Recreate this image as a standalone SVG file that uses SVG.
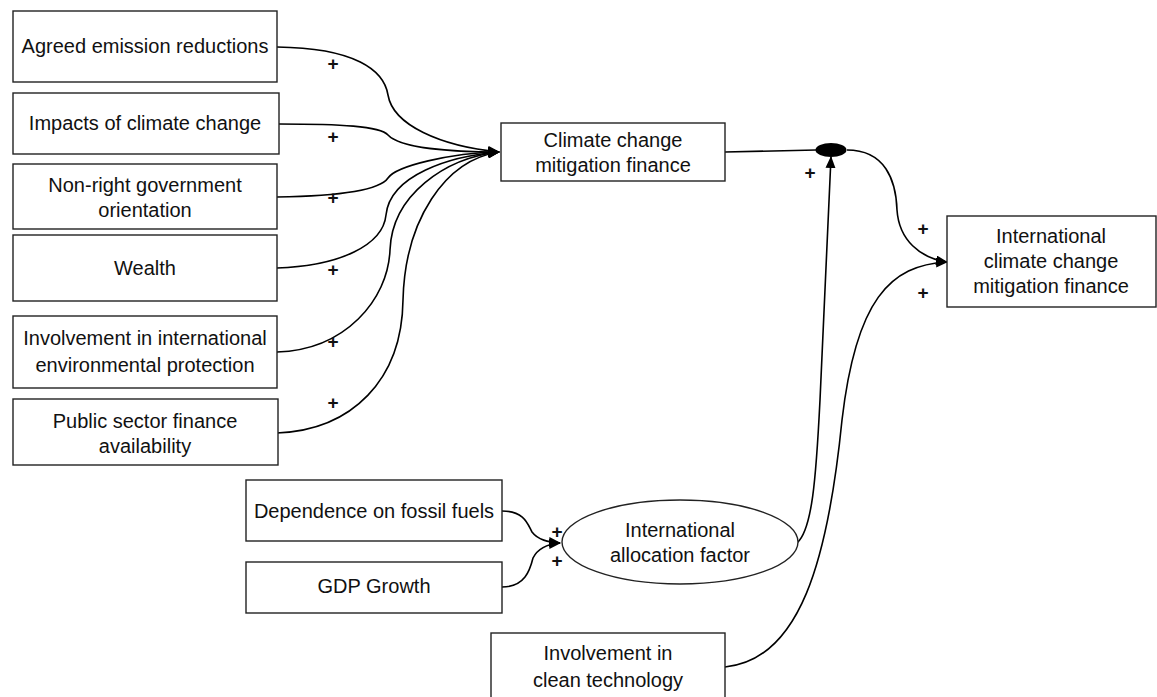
<svg xmlns="http://www.w3.org/2000/svg" width="1157" height="697" viewBox="0 0 1157 697">
  <style>
    .box { fill: #ffffff; stroke: #222222; stroke-width: 1.4; }
    .lbl { font-family: "Liberation Sans", Arial, sans-serif; font-size: 20px; fill: #111111; text-anchor: middle; }
    .sign { font-family: "Liberation Sans", Arial, sans-serif; font-size: 19px; font-weight: bold; fill: #111111; text-anchor: middle; }
    .link { fill: none; stroke: #000000; stroke-width: 1.6; }
  </style>
  <defs>
    <marker id="arrow" viewBox="0 0 12 10" refX="11" refY="5" markerWidth="12" markerHeight="10" markerUnits="userSpaceOnUse" orient="auto">
      <path d="M0,0 L12,5 L0,10 Z" fill="#000000"/>
    </marker>
  </defs>
  <rect width="1157" height="697" fill="#ffffff"/>

  <!-- connectors -->
  <g id="connectors">
    <path class="link" marker-end="url(#arrow)" d="M277,47 C355,48 384,70 388,95 C393,125 440,146 499,152"/>
    <path class="link" marker-end="url(#arrow)" d="M279,124 C340,124 380,126 388,135 C400,148 450,152 499,152"/>
    <path class="link" marker-end="url(#arrow)" d="M277,197 C340,196 380,190 388,178 C396,166 450,153 499,152"/>
    <path class="link" marker-end="url(#arrow)" d="M277,268 C340,266 383,245 386,215 C390,175 450,156 499,152"/>
    <path class="link" marker-end="url(#arrow)" d="M277,352 C345,350 388,300 390,250 C392,195 445,158 499,152"/>
    <path class="link" marker-end="url(#arrow)" d="M277,433 C352,430 402,380 403,300 C405,220 445,160 499,152"/>
    <path class="link" d="M725,152 L816,150"/>
    <path class="link" marker-end="url(#arrow)" d="M797,543 C812,530 816,480 820,400 L831,157"/>
    <path class="link" marker-end="url(#arrow)" d="M847,150 C885,150 896,180 897,210 C899,240 920,258 947,262"/>
    <path class="link" marker-end="url(#arrow)" d="M725,667 C800,660 828,560 842,420 C856,300 890,265 947,262"/>
    <path class="link" marker-end="url(#arrow)" d="M502,511 C525,511 528,525 532,532 C538,540 548,542 560,543"/>
    <path class="link" marker-end="url(#arrow)" d="M502,587 C525,587 530,570 533,558 C538,548 548,544 560,543"/>
    <ellipse cx="831" cy="150" rx="15.5" ry="7" fill="#000000"/>
  </g>

  <!-- polarity signs -->
  <g id="signs">
    <text class="sign" x="333" y="70">+</text>
    <text class="sign" x="333" y="143">+</text>
    <text class="sign" x="333" y="204">+</text>
    <text class="sign" x="333" y="276">+</text>
    <text class="sign" x="333" y="348">+</text>
    <text class="sign" x="333" y="409">+</text>
    <text class="sign" x="810" y="179">+</text>
    <text class="sign" x="923" y="235">+</text>
    <text class="sign" x="923" y="299">+</text>
    <text class="sign" x="557" y="538">+</text>
    <text class="sign" x="557" y="567">+</text>
  </g>

  <g id="agreed-emission-reductions">
    <rect class="box" x="13" y="11" width="264" height="71"/>
    <text class="lbl" x="145" y="53">Agreed emission reductions</text>
  </g>
  <g id="impacts-of-climate-change">
    <rect class="box" x="13" y="93" width="266" height="61"/>
    <text class="lbl" x="145" y="130">Impacts of climate change</text>
  </g>
  <g id="non-right-government">
    <rect class="box" x="13" y="164" width="264" height="65"/>
    <text class="lbl" x="145" y="192">Non-right government</text>
    <text class="lbl" x="145" y="217">orientation</text>
  </g>
  <g id="wealth">
    <rect class="box" x="13" y="235" width="264" height="66"/>
    <text class="lbl" x="145" y="275">Wealth</text>
  </g>
  <g id="intl-environmental-protection">
    <rect class="box" x="13" y="316" width="264" height="72"/>
    <text class="lbl" x="145" y="345">Involvement in international</text>
    <text class="lbl" x="145" y="372">environmental protection</text>
  </g>
  <g id="public-sector-finance">
    <rect class="box" x="13" y="399" width="265" height="66"/>
    <text class="lbl" x="145" y="428">Public sector finance</text>
    <text class="lbl" x="145" y="453">availability</text>
  </g>
  <g id="climate-change-mitigation-finance">
    <rect class="box" x="501" y="123" width="224" height="58"/>
    <text class="lbl" x="613" y="147">Climate change</text>
    <text class="lbl" x="613" y="172">mitigation finance</text>
  </g>
  <g id="international-climate-change-mitigation-finance">
    <rect class="box" x="947" y="216" width="209" height="91"/>
    <text class="lbl" x="1051" y="243">International</text>
    <text class="lbl" x="1051" y="268">climate change</text>
    <text class="lbl" x="1051" y="293">mitigation finance</text>
  </g>
  <g id="dependence-on-fossil-fuels">
    <rect class="box" x="246" y="480" width="256" height="61"/>
    <text class="lbl" x="374" y="518">Dependence on fossil fuels</text>
  </g>
  <g id="gdp-growth">
    <rect class="box" x="246" y="562" width="256" height="51"/>
    <text class="lbl" x="374" y="593">GDP Growth</text>
  </g>
  <g id="international-allocation-factor">
    <ellipse class="box" cx="680" cy="542" rx="118" ry="42"/>
    <text class="lbl" x="680" y="537">International</text>
    <text class="lbl" x="680" y="562">allocation factor</text>
  </g>
  <g id="involvement-in-clean-technology">
    <rect class="box" x="491" y="633" width="234" height="70"/>
    <text class="lbl" x="608" y="660">Involvement in</text>
    <text class="lbl" x="608" y="687">clean technology</text>
  </g>
</svg>
